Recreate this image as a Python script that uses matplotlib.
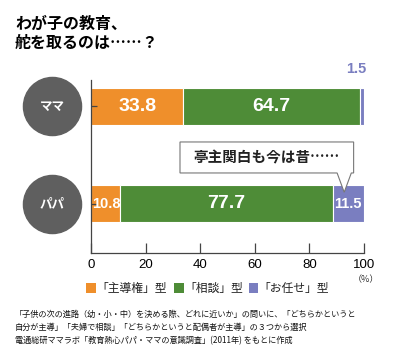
import matplotlib.pyplot as plt
from matplotlib.patches import Polygon

plt.rcParams['font.family'] = ['Noto Sans CJK JP', 'DejaVu Sans']

groups = ["ママ", "パパ"]
leader = [33.8, 10.8]
consult = [64.7, 77.7]
leave = [1.5, 11.5]
series_names = ["「主導権」型", "「相談」型", "「お任せ」型"]
colors = ["#EF8F2B", "#4E8C37", "#7A7EC0"]
ticks = [0, 20, 40, 60, 80, 100]

fig = plt.figure(figsize=(4.0, 3.59), dpi=100)
ax = fig.add_axes([0.2275, 0.2953, 0.6825, 0.4819])

ypos = [1, 0]
h = 0.38
left = [0, 0]
for vals, c in zip([leader, consult, leave], colors):
    ax.barh(ypos, vals, left=left, height=h, color=c, edgecolor="white", linewidth=0.8)
    left = [l + v for l, v in zip(left, vals)]

numfam = ['Liberation Sans', 'DejaVu Sans']
for y, a, b, c in zip(ypos, leader, consult, leave):
    if a > 15:
        ax.text(a / 2, y, f"{a}", ha='center', va='center', fontsize=14,
                family=numfam, fontweight='bold', color='white')
    else:
        ax.text(a / 2 + 0.3, y, f"{a}", ha='center', va='center', fontsize=10.5,
                family=numfam, fontweight='bold', color='white')
    ax.text(a + b / 2, y, f"{b}", ha='center', va='center', fontsize=14,
            family=numfam, fontweight='bold', color='white')
    if c > 5:
        ax.text(a + b + c / 2, y, f"{c}", ha='center', va='center', fontsize=10.5,
                family=numfam, fontweight='bold', color='white')
    else:
        ax.text(a + b + c / 2 - 2, y + h / 2 + 0.12, f"{c}", ha='center', va='bottom',
                fontsize=10.5, family=numfam, fontweight='bold', color=colors[2])

# group badges
for y, g in zip(ypos, groups):
    ax.scatter([-14.3], [y], s=1750, color="#5f5f5f", clip_on=False, zorder=3)
    ax.text(-14.3, y, g, ha='center', va='center', color='white', fontsize=9,
            fontweight='bold', zorder=4)

# callout
a, b, c = leader[1], consult[1], leave[1]
tip = a + b + c / 2 - 1.5
pts = [(32.6, 0.636), (96.2, 0.636), (96.2, 0.318), (tip + 2.6, 0.318), (tip, 0.12),
       (tip - 2.6, 0.318), (32.6, 0.318)]
ax.add_patch(Polygon(pts, closed=True, facecolor='white', edgecolor='#777777',
                     linewidth=0.8, clip_on=False, zorder=5))
ax.text(64.4, 0.477, "亭主関白も今は昔……", ha='center', va='center', fontsize=10.5,
        fontweight='bold', color='#222222', zorder=6)

ax.set_xlim(0, 100)
ax.set_ylim(-0.503, 1.272)
ax.set_xticks(ticks)
ax.set_xticklabels([str(t) for t in ticks], fontsize=9.5, family=numfam)
ax.set_yticks(ypos)
ax.set_yticklabels([])
ax.tick_params(axis='x', direction='in', length=7, width=0.9, color='#444444', pad=4)
ax.tick_params(axis='y', direction='in', length=4, width=0.9, color='#444444')
for s in ['top', 'right']:
    ax.spines[s].set_visible(False)
for s in ['left', 'bottom']:
    ax.spines[s].set_color('#444444')
    ax.spines[s].set_linewidth(0.9)

fig.text(0.915, 0.22, "（%）", ha='center', va='center', fontsize=6.5, color='#333333')

# legend
lx = [0.215, 0.435, 0.622]
for x, name, c in zip(lx, series_names, colors):
    fig.patches.append(plt.Rectangle((x, 0.185), 0.024, 0.027, transform=fig.transFigure,
                                     facecolor=c, edgecolor='none'))
    fig.text(x + 0.025, 0.197, name, ha='left', va='center', fontsize=8.5, color='#222222')

fig.text(0.0375, 0.934, "わが子の教育、", ha='left', va='center', fontsize=11.5, fontweight='bold')
fig.text(0.0375, 0.88, "舵を取るのは……？", ha='left', va='center', fontsize=11.5, fontweight='bold')

notes = ["「子供の次の進路（幼・小・中）を決める際、どれに近いか」の問いに、「どちらかというと",
         "自分が主導」「夫婦で相談」「どちらかというと配偶者が主導」の３つから選択",
         "電通総研ママラボ「教育熱心パパ・ママの意識調査」(2011年) をもとに作成"]
for i, t in enumerate(notes):
    fig.text(0.0375, 0.125 - i * 0.0365, t, ha='left', va='center', fontsize=5.9, color='#111111')

fig.savefig("out.png", dpi=100)
